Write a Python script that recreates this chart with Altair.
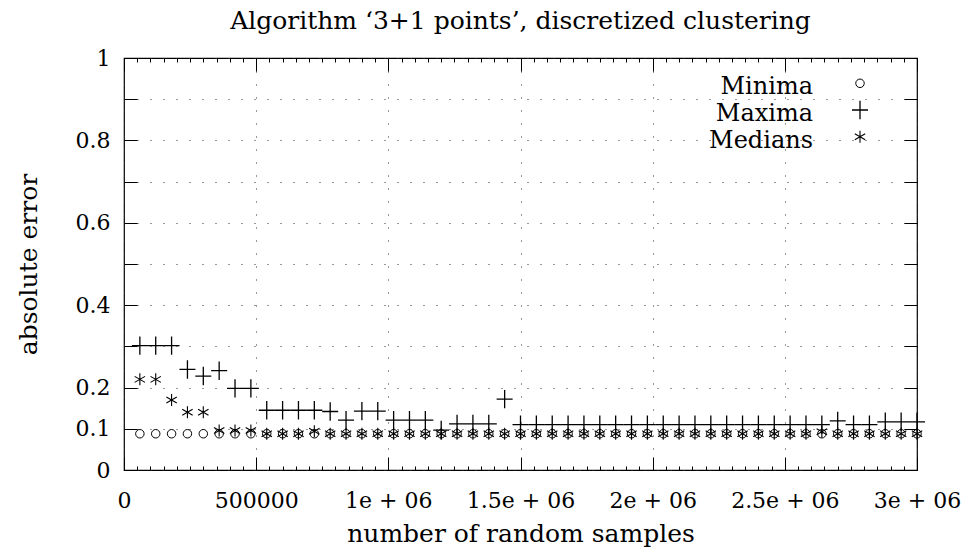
import json
import altair as alt
import pandas as pd

# ---------------- data ----------------
series_names = ["Minima", "Maxima", "Medians"]

samples = [60000, 120000, 180000, 240000, 300000, 360000, 420000, 480000, 540000, 600000,
           660000, 720000, 780000, 840000, 900000, 960000, 1020000, 1080000, 1140000, 1200000,
           1260000, 1320000, 1380000, 1440000, 1500000, 1560000, 1620000, 1680000, 1740000, 1800000,
           1860000, 1920000, 1980000, 2040000, 2100000, 2160000, 2220000, 2280000, 2340000, 2400000,
           2460000, 2520000, 2580000, 2640000, 2700000, 2760000, 2820000, 2880000, 2940000, 3000000]

minima = [0.088, 0.088, 0.088, 0.088, 0.088, 0.088, 0.088, 0.088, 0.088, 0.088,
          0.088, 0.088, 0.088, 0.088, 0.088, 0.088, 0.088, 0.088, 0.088, 0.088,
          0.088, 0.088, 0.088, 0.088, 0.088, 0.088, 0.088, 0.088, 0.088, 0.088,
          0.088, 0.088, 0.088, 0.088, 0.088, 0.088, 0.088, 0.088, 0.088, 0.088,
          0.088, 0.088, 0.088, 0.088, 0.088, 0.088, 0.088, 0.088, 0.088, 0.088]

maxima = [0.302, 0.302, 0.302, 0.244, 0.228, 0.241, 0.198, 0.198, 0.145, 0.145,
          0.145, 0.145, 0.142, 0.121, 0.143, 0.143, 0.121, 0.121, 0.121, 0.097,
          0.112, 0.112, 0.112, 0.172, 0.110, 0.110, 0.110, 0.110, 0.110, 0.110,
          0.110, 0.110, 0.110, 0.110, 0.110, 0.110, 0.110, 0.110, 0.110, 0.110,
          0.110, 0.110, 0.110, 0.110, 0.119, 0.110, 0.110, 0.117, 0.117, 0.117]

medians = [0.220, 0.220, 0.170, 0.140, 0.140, 0.096, 0.096, 0.096, 0.088, 0.088,
           0.088, 0.094, 0.088, 0.088, 0.088, 0.088, 0.088, 0.088, 0.088, 0.088,
           0.088, 0.088, 0.088, 0.088, 0.088, 0.088, 0.088, 0.088, 0.088, 0.088,
           0.088, 0.088, 0.088, 0.088, 0.088, 0.088, 0.088, 0.088, 0.088, 0.088,
           0.088, 0.088, 0.088, 0.093, 0.088, 0.088, 0.088, 0.088, 0.088, 0.088]

xtick_values = [0, 500000, 1000000, 1500000, 2000000, 2500000, 3000000]
xtick_labels = ["0", "500000", "1e + 06", "1.5e + 06", "2e + 06", "2.5e + 06", "3e + 06"]
xminor_values = list(range(0, 3000001, 50000))
ytick_values = [0, 0.1, 0.2, 0.3, 0.4, 0.5, 0.6, 0.7, 0.8, 0.9, 1]
ylabel_values = [0, 0.1, 0.2, 0.4, 0.6, 0.8, 1]

title_text = "Algorithm \u20183+1 points\u2019, discretized clustering"
x_title = "number of random samples"
y_title = "absolute error"

# ---------------- style ----------------
FONT = "DejaVu Serif"
W, H = 793, 412
PLUS = "M-1,0L1,0M0,-1.15L0,1.15"
AST = "M0,-1L0,1M-0.866,-0.5L0.866,0.5M-0.866,0.5L0.866,-0.5"
shape_of = {"Minima": "circle", "Maxima": PLUS, "Medians": AST}
size_of = {"Minima": 72, "Maxima": 256, "Medians": 144}
width_of = {"Minima": 1.0, "Maxima": 1.3, "Medians": 1.1}

values_of = {"Minima": minima, "Maxima": maxima, "Medians": medians}
frames = {n: pd.DataFrame({"sample": samples, "value": values_of[n]}) for n in series_names}

x_scale = alt.Scale(domain=[0, 3000000], nice=False, zero=False)
y_scale = alt.Scale(domain=[0, 1], nice=False)

grid_style = dict(grid=True, gridDash=[1, 12], gridColor="#333", gridWidth=1)
tick_style = dict(labels=False, domain=False, grid=False, title="", tickColor="black", tickWidth=1)

x_label_expr = json.dumps(xtick_labels) + "[round(datum.value / 500000)]"
y_label_expr = "indexof(" + json.dumps(ylabel_values) + ", datum.value) >= 0 ? format(datum.value, '~g') : ''"

x_label_axis = alt.Axis(orient="bottom", values=xtick_values, labelExpr=x_label_expr, ticks=False,
                        domain=False, labelFont=FONT, labelFontSize=22, labelColor="black",
                        labelPadding=20, labelFlush=False, labelOverlap=False, labelBound=False,
                        title=x_title, titleFont=FONT, titleFontSize=25, titleFontWeight="normal",
                        titleColor="black", titlePadding=10, **grid_style)
y_label_axis = alt.Axis(orient="left", values=ytick_values, labelExpr=y_label_expr, ticks=False,
                        domain=False, labelFont=FONT, labelFontSize=22, labelColor="black",
                        labelPadding=14, labelFlush=False, labelOverlap=False, labelBound=False,
                        title=y_title, titleFont=FONT, titleFontSize=25, titleFontWeight="normal",
                        titleColor="black", titlePadding=34, **grid_style)

x_major_in_bottom = alt.Axis(orient="top", offset=-H, values=xtick_values, tickSize=13, **tick_style)
x_major_in_top = alt.Axis(orient="bottom", offset=-H, values=xtick_values, tickSize=13, **tick_style)
x_minor_in_bottom = alt.Axis(orient="top", offset=-H, values=xminor_values, tickSize=4, **tick_style)
x_minor_in_top = alt.Axis(orient="bottom", offset=-H, values=xminor_values, tickSize=4, **tick_style)
y_in_left = alt.Axis(orient="right", offset=-W, values=ytick_values, tickSize=13, **tick_style)
y_in_right = alt.Axis(orient="left", offset=-W, values=ytick_values, tickSize=13, **tick_style)

axes_for = {
    "Minima": (x_label_axis, y_label_axis),
    "Maxima": (x_major_in_bottom, y_in_left),
    "Medians": (x_major_in_top, y_in_right),
}

layers = []
for name in series_names:
    xa, ya = axes_for[name]
    layers.append(
        alt.Chart(frames[name]).mark_point(
            shape=shape_of[name], size=size_of[name], filled=False,
            stroke="black", strokeWidth=width_of[name], opacity=1
        ).encode(
            x=alt.X("sample:Q", scale=x_scale, axis=xa),
            y=alt.Y("value:Q", scale=y_scale, axis=ya),
        )
    )

# helper layers carrying the minor ticks
for ax in (x_minor_in_bottom, x_minor_in_top):
    layers.append(
        alt.Chart(frames["Minima"]).mark_point(opacity=0).encode(
            x=alt.X("sample:Q", scale=x_scale, axis=ax),
            y=alt.Y("value:Q", scale=y_scale, axis=None),
        )
    )

# chart title, centred over the plot area
title_df = pd.DataFrame({"title": [title_text]})
layers.append(
    alt.Chart(title_df).mark_text(
        align="center", baseline="alphabetic", font=FONT, fontSize=25, color="black"
    ).encode(text="title:N", x=alt.value(W / 2), y=alt.value(-29))
)

# key (labels left of symbols, as in the original)
legend_df = pd.DataFrame({"name": series_names})
key_text_x, key_sym_x = 689, 736
key_sym_top, key_text_top, key_step = 25.3, 29.3, 26.7
for i, name in enumerate(series_names):
    sub = legend_df[legend_df["name"] == name]
    layers.append(
        alt.Chart(sub).mark_text(
            align="right", baseline="middle", font=FONT, fontSize=24, color="black"
        ).encode(text="name:N", x=alt.value(key_text_x), y=alt.value(key_text_top + i * key_step))
    )
    layers.append(
        alt.Chart(sub).mark_point(
            shape=shape_of[name], size=size_of[name], filled=False,
            stroke="black", strokeWidth=width_of[name], opacity=1
        ).encode(x=alt.value(key_sym_x), y=alt.value(key_sym_top + i * key_step))
    )

chart = alt.layer(*layers).properties(
    width=W, height=H,
    padding={"left": 124, "top": 58, "right": 53, "bottom": 83},
    autosize=alt.AutoSizeParams(type="none"),
).resolve_axis(x="independent", y="independent").configure_view(
    stroke="black", strokeWidth=1.2
)

chart.save("out.html", embed_options={"renderer": "svg", "actions": False})
